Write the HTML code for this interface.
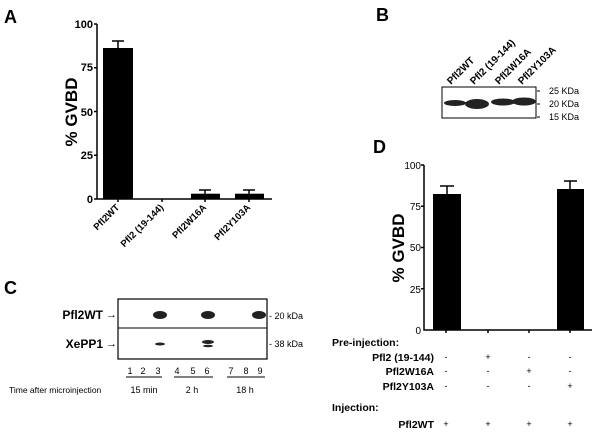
<!DOCTYPE html><html><head><style>body{margin:0;background:#fff}svg{display:block}text{font-family:"Liberation Sans",Arial,sans-serif;fill:#000}</style></head><body>
<svg width="600" height="434" viewBox="0 0 600 434">
<!-- Panel A -->
<text x="4" y="23" font-size="18" font-weight="bold">A</text>
<text transform="translate(77,112) rotate(-90)" font-size="17" font-weight="bold" text-anchor="middle">% GVBD</text>
<g font-size="11" font-weight="bold" text-anchor="end">
<text x="93" y="28">100</text><text x="93" y="71">75</text><text x="93" y="116">50</text><text x="93" y="159">25</text><text x="93" y="203">0</text></g>
<g stroke="#000" stroke-width="1.5" fill="none">
<path d="M97,24V199H272M94,24H97M94,67.75H97M94,111.5H97M94,155.25H97M94,199H97"/>
<path d="M118,199v3M162,199v3M205,199v3M249,199v3"/>
<path d="M118,48V41M112,41H124M205,194V190M199,190H211M249,194V190M243,190H255"/></g>
<rect x="103" y="48" width="30" height="151"/><rect x="191" y="193.7" width="29" height="5.3"/><rect x="235" y="193.7" width="29" height="5.3"/>
<g font-size="9.5" font-weight="bold" text-anchor="end">
<text transform="translate(120,208) rotate(-45)">Pfl2WT</text>
<text transform="translate(164,208) rotate(-45)">Pfl2 (19-144)</text>
<text transform="translate(207,208) rotate(-45)">Pfl2W16A</text>
<text transform="translate(251,208) rotate(-45)">Pfl2Y103A</text></g>
<!-- Panel B -->
<text x="376" y="21" font-size="18" font-weight="bold">B</text>
<g font-size="10" font-weight="bold">
<text transform="translate(451,85) rotate(-45)">Pfl2WT</text>
<text transform="translate(474,85) rotate(-45)">Pfl2 (19-144)</text>
<text transform="translate(499,85) rotate(-45)">Pfl2W16A</text>
<text transform="translate(522,85) rotate(-45)">Pfl2Y103A</text></g>
<rect x="442" y="87" width="94" height="31" fill="none" stroke="#000"/>
<g fill="#222"><ellipse cx="455" cy="103" rx="11" ry="3"/><ellipse cx="477" cy="104" rx="12" ry="5"/><ellipse cx="503" cy="102" rx="12" ry="3.5"/><ellipse cx="524" cy="101.5" rx="12" ry="4"/></g>
<g font-size="9"><text x="549" y="94">25 KDa</text><text x="549" y="107">20 KDa</text><text x="549" y="120">15 KDa</text></g>
<path d="M537,91h3M537,104h3M537,117h3" stroke="#000"/>
<!-- Panel C -->
<text x="4" y="294" font-size="18" font-weight="bold">C</text>
<rect x="118" y="299" width="149" height="60" fill="none" stroke="#000" stroke-width="1.2"/>
<path d="M118,328H267" stroke="#000"/>
<g fill="#222"><ellipse cx="160" cy="315" rx="7" ry="4"/><ellipse cx="208" cy="315" rx="7" ry="4"/><ellipse cx="259" cy="315" rx="7" ry="4"/>
<ellipse cx="160" cy="344" rx="5" ry="1.5"/><ellipse cx="208" cy="342" rx="6" ry="2"/><ellipse cx="208" cy="346" rx="5" ry="1.3"/></g>
<g font-size="12" font-weight="bold" text-anchor="end"><text x="103" y="319">Pfl2WT</text><text x="103" y="348">XePP1</text></g>
<g font-size="11"><text x="106" y="318">→</text><text x="106" y="347">→</text></g>
<g font-size="9"><text x="269" y="319">- 20 kDa</text><text x="269" y="347">- 38 kDa</text></g>
<g font-size="9" text-anchor="middle"><text x="130" y="374">1</text><text x="143" y="374">2</text><text x="158" y="374">3</text><text x="177" y="374">4</text><text x="193" y="374">5</text><text x="207" y="374">6</text><text x="231" y="374">7</text><text x="246" y="374">8</text><text x="260" y="374">9</text>
<text x="144" y="393">15 min</text><text x="192" y="393">2 h</text><text x="245" y="393">18 h</text></g>
<path d="M126,377H162M174,377H213M227,377H265" stroke="#000"/>
<text x="9" y="393" font-size="8.5">Time after microinjection</text>
<!-- Panel D -->
<text x="373" y="153" font-size="18" font-weight="bold">D</text>
<text transform="translate(404,248) rotate(-90)" font-size="17" font-weight="bold" text-anchor="middle">% GVBD</text>
<g font-size="10" text-anchor="end"><text x="421" y="169">100</text><text x="421" y="210">75</text><text x="421" y="251">50</text><text x="421" y="293">25</text><text x="421" y="334">0</text></g>
<g stroke="#000" stroke-width="1.5" fill="none">
<path d="M424,165V330H592M421,165H424M421,206.25H424M421,247.5H424M421,288.75H424"/>
<path d="M446,330v3M488,330v3M529,330v3M570,330v3"/>
<path d="M447,194V186M440,186H454M570,189V181M564,181H577"/></g>
<rect x="433" y="194" width="28" height="136"/><rect x="557" y="189" width="27" height="141"/>
<g font-size="10.5" font-weight="bold"><text x="332" y="346">Pre-injection:</text><text x="332" y="411">Injection:</text></g>
<g font-size="10.5" font-weight="bold" text-anchor="end"><text x="434" y="361">Pfl2 (19-144)</text><text x="434" y="375">Pfl2W16A</text><text x="434" y="390">Pfl2Y103A</text><text x="434" y="428">Pfl2WT</text></g>
<g font-size="9" text-anchor="middle">
<text x="446" y="360">-</text><text x="488" y="360">+</text><text x="529" y="360">-</text><text x="570" y="360">-</text>
<text x="446" y="374">-</text><text x="488" y="374">-</text><text x="529" y="374">+</text><text x="570" y="374">-</text>
<text x="446" y="389">-</text><text x="488" y="389">-</text><text x="529" y="389">-</text><text x="570" y="389">+</text>
<text x="446" y="427">+</text><text x="488" y="427">+</text><text x="529" y="427">+</text><text x="570" y="427">+</text></g>
</svg></body></html>
